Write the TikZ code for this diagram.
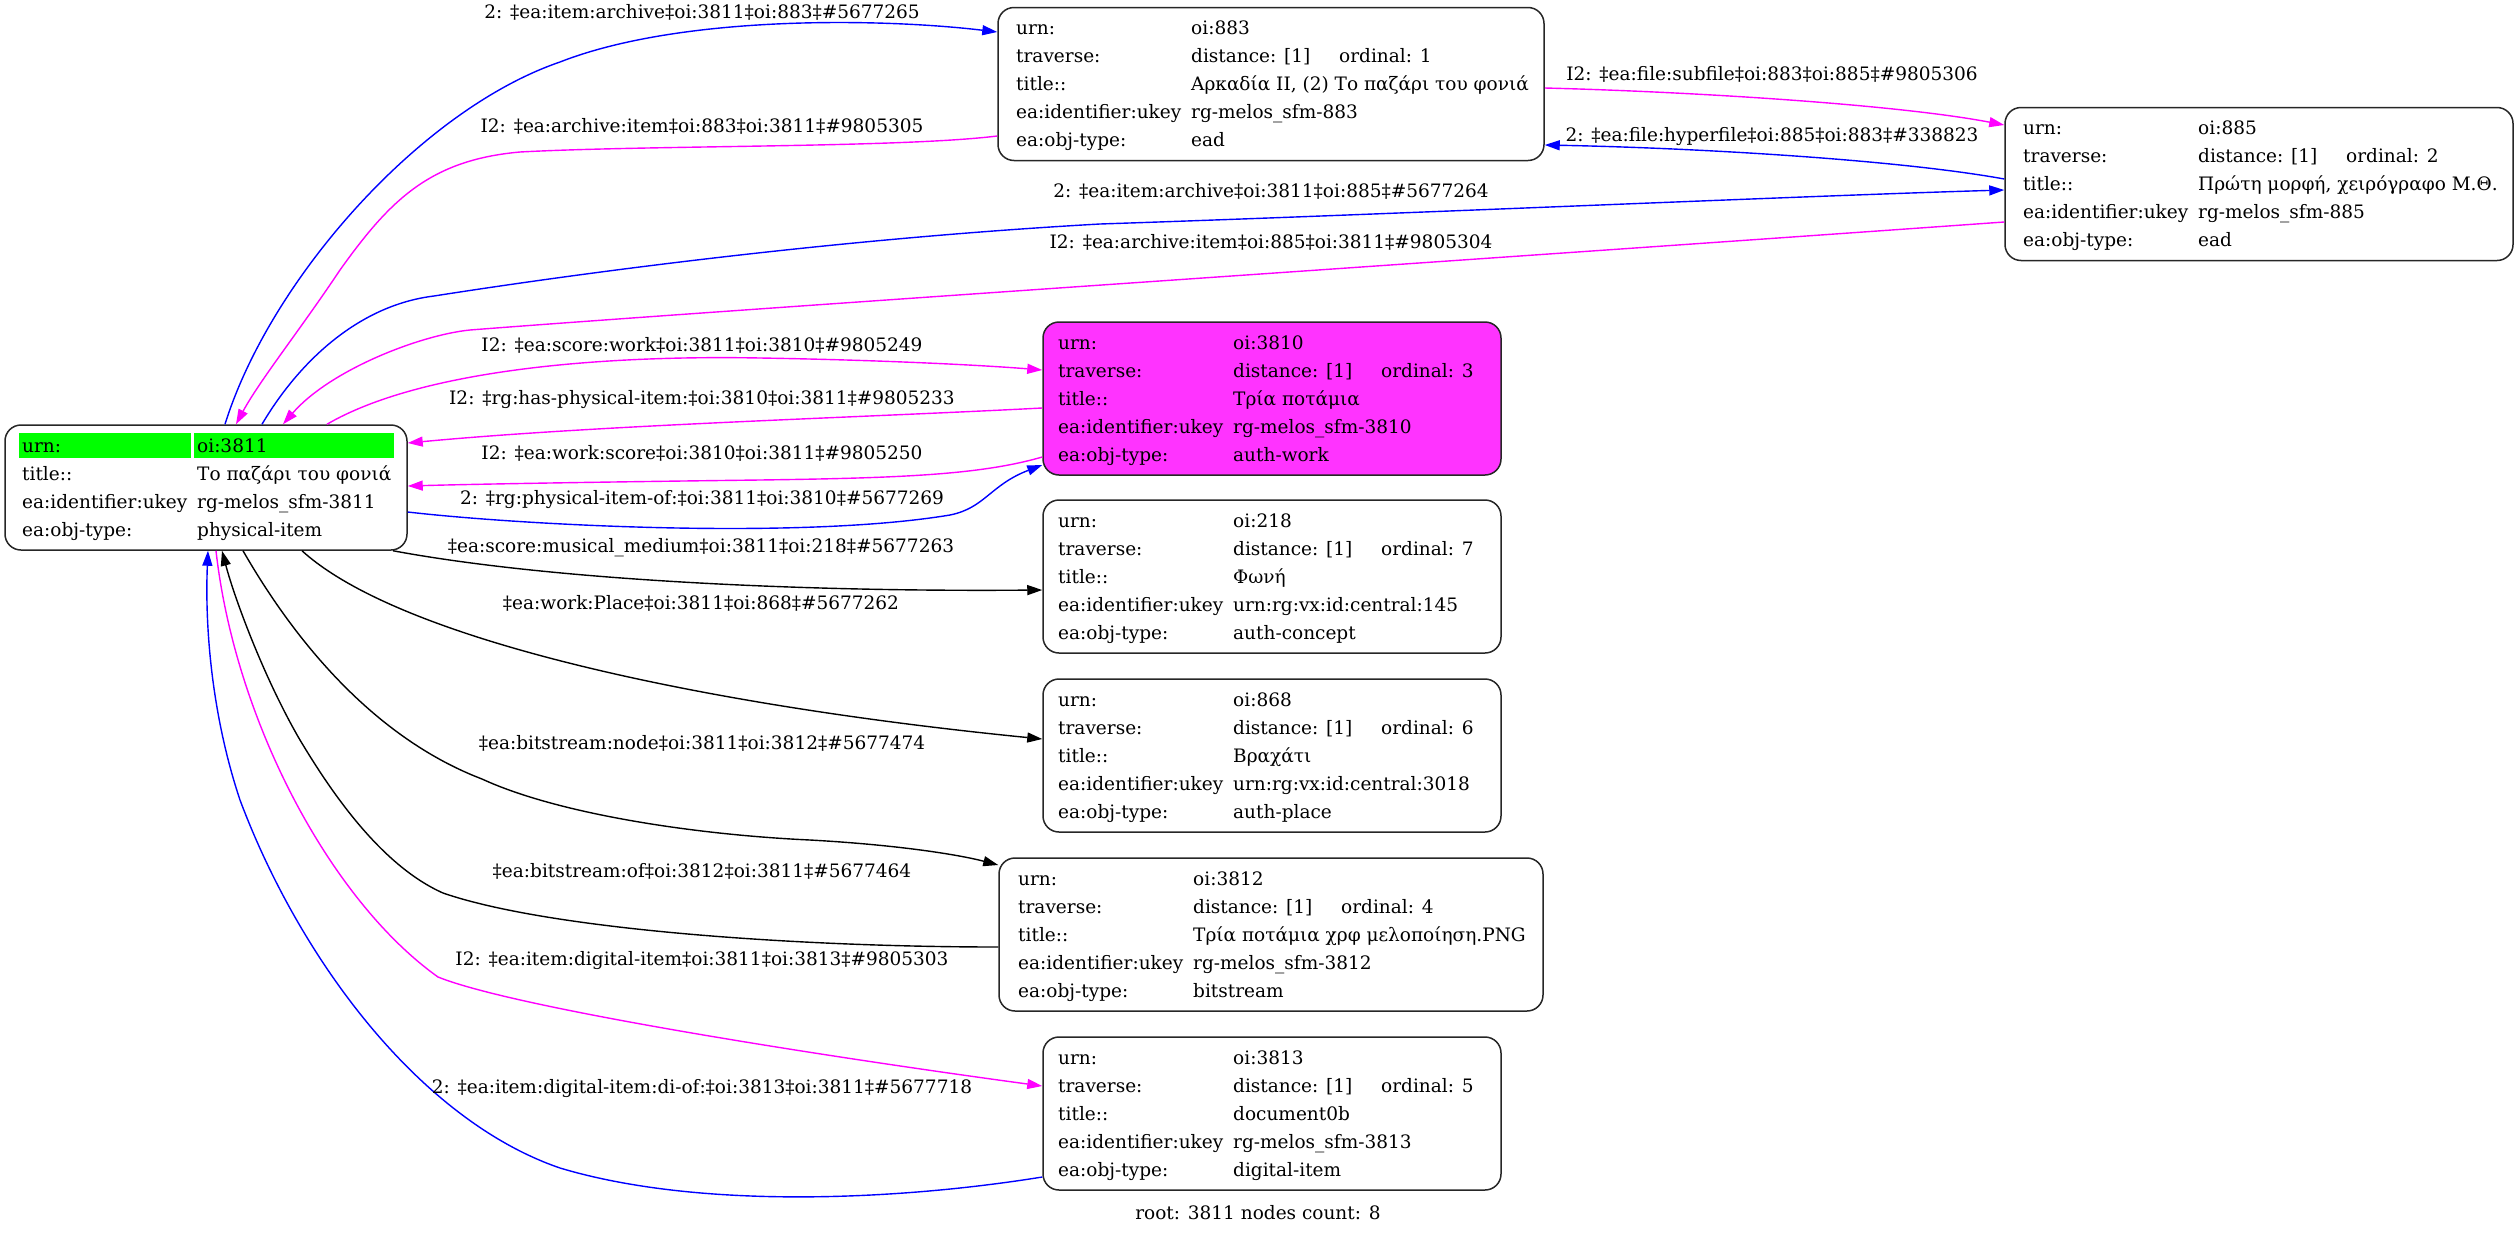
\documentclass[tikz,border=0pt]{standalone}
\usepackage{fontspec}
\setmainfont{DejaVu Serif}
\usetikzlibrary{arrows.meta}
\definecolor{mag}{HTML}{FF00FF}
\definecolor{blu}{HTML}{0000FF}
\definecolor{pinkfill}{HTML}{FF33FF}
\definecolor{grn}{HTML}{00FF00}
\newcommand{\nf}{\fontsize{18.5}{28}\selectfont}
\newcommand{\ca}[1]{\strut\makebox[175pt][l]{#1}}
\newcommand{\cb}[1]{\makebox[148pt][l]{#1}}
\tikzset{
  box/.style={draw=black!85, line width=1.5pt, rounded corners=16pt, inner sep=0pt, minimum height=153pt},
  tbl/.style={anchor=north west, inner sep=0pt, font=\nf, align=left},
  lbl/.style={inner sep=0pt, font=\nf, text height=13.5pt, text depth=4pt},
  edge/.style={line width=1.4pt, -{Triangle[length=15pt,width=10pt]}},
  be/.style={edge, draw=blu, color=blu},
  me/.style={edge, draw=mag, color=mag},
  ke/.style={edge, draw=black, color=black},
}
\newcommand{\tfive}[5]{%
\ca{urn:}#1\\%
\ca{traverse:}\cb{distance: [1]}ordinal: #2\\%
\ca{title::}#3\\%
\ca{ea:identifier:ukey}#4\\%
\ca{ea:obj-type:}#5}
\begin{document}
\begin{tikzpicture}[x=1pt,y=-1pt]
\useasboundingbox (0,0) rectangle (2519,1237);
% boxes
\node[box, minimum width=402pt, minimum height=125pt] (n3811) at (206,487.5) {};
\node[box, minimum width=546pt] (n883) at (1271,84) {};
\node[box, minimum width=508pt] (n885) at (2259,184) {};
\node[box, minimum width=458pt, fill=pinkfill] (n3810) at (1272,398.5) {};
\node[box, minimum width=458pt] (n218) at (1272,576.5) {};
\node[box, minimum width=458pt] (n868) at (1272,755.5) {};
\node[box, minimum width=544pt] (n3812) at (1271,934.5) {};
\node[box, minimum width=458pt] (n3813) at (1272,1113.5) {};
% green highlight
\fill[grn] (19,433) rectangle (191,458);
\fill[grn] (194,433) rectangle (394,458);
% tables
\node[tbl] (t3811) at (22,433) {\ca{urn:}oi:3811\\\ca{title::}Το παζάρι του φονιά\\\ca{ea:identifier:ukey}rg-melos\_sfm-3811\\\ca{ea:obj-type:}physical-item};
\node[tbl] (t883) at (1016,15) {\tfive{oi:883}{1}{Αρκαδία II, (2) Το παζάρι του φονιά}{rg-melos\_sfm-883}{ead}};
\node[tbl] (t885) at (2023,115) {\tfive{oi:885}{2}{Πρώτη μορφή, χειρόγραφο Μ.Θ.}{rg-melos\_sfm-885}{ead}};
\node[tbl] (t3810) at (1058,330) {\tfive{oi:3810}{3}{Τρία ποτάμια}{rg-melos\_sfm-3810}{auth-work}};
\node[tbl] (t218) at (1058,508) {\tfive{oi:218}{7}{Φωνή}{urn:rg:vx:id:central:145}{auth-concept}};
\node[tbl] (t868) at (1058,687) {\tfive{oi:868}{6}{Βραχάτι}{urn:rg:vx:id:central:3018}{auth-place}};
\node[tbl] (t3812) at (1018,866) {\tfive{oi:3812}{4}{Τρία ποτάμια χρφ μελοποίηση.PNG}{rg-melos\_sfm-3812}{bitstream}};
\node[tbl] (t3813) at (1058,1045) {\tfive{oi:3813}{5}{document0b}{rg-melos\_sfm-3813}{digital-item}};
% edges
\draw[be] ([xshift=19pt]n3811.north) .. controls (270,280) and (420,110) .. (560,62) .. controls (680,15) and (880,18) .. ([yshift=52pt]n883.west);
\draw[me] ([yshift=-52pt]n883.west) .. controls (900,148) and (650,145) .. (520,152) .. controls (430,160) and (390,200) .. (340,270) .. controls (300,330) and (260,380) .. ([xshift=30pt]n3811.north);
\draw[be] ([xshift=56pt]n3811.north) .. controls (300,360) and (360,305) .. (434,296) .. controls (600,270) and (850,238) .. (1100,224) .. controls (1400,214) and (1800,196) .. ([yshift=-6pt]n885.west);
\draw[me] ([yshift=-38pt]n885.west) .. controls (1500,258) and (700,312) .. (470,330) .. controls (420,335) and (330,370) .. ([xshift=77pt]n3811.north);
\draw[me] ([xshift=121pt]n3811.north) .. controls (420,370) and (600,355) .. (760,358) .. controls (880,360) and (980,365) .. ([yshift=28.5pt]n3810.west);
\draw[me] ([yshift=-9.5pt]n3810.west) .. controls (850,418) and (600,425) .. ([yshift=44.5pt]n3811.east);
\draw[me] ([yshift=-58.5pt]n3810.west) .. controls (980,475) and (900,478) .. (760,480) .. controls (600,482) and (480,484) .. ([yshift=1.5pt]n3811.east);
\draw[be] ([yshift=-24.5pt]n3811.east) .. controls (520,525) and (800,540) .. (950,515) .. controls (985,508) and (990,485) .. ([yshift=-66.5pt]n3810.west);
\draw[ke] ([xshift=187pt]n3811.south) .. controls (550,580) and (800,592) .. ([yshift=-13.5pt]n218.west);
\draw[ke] ([xshift=96pt]n3811.south) .. controls (400,640) and (700,705) .. ([yshift=16.5pt]n868.west);
\draw[ke] ([xshift=37pt]n3811.south) .. controls (300,650) and (380,740) .. (482,779) .. controls (560,815) and (700,835) .. (810,840) .. controls (900,845) and (960,855) .. ([yshift=69.5pt]n3812.west);
\draw[ke] ([yshift=-12.5pt]n3812.west) .. controls (800,947) and (550,930) .. (443,893) .. controls (380,865) and (330,790) .. (300,740) .. controls (265,680) and (235,600) .. ([xshift=16pt]n3811.south);
\draw[me] ([xshift=10pt]n3811.south) .. controls (235,720) and (330,900) .. (438,977) .. controls (520,1010) and (850,1060) .. ([yshift=27.5pt]n3813.west);
\draw[be] ([yshift=-63.5pt]n3813.west) .. controls (900,1200) and (700,1210) .. (560,1168) .. controls (420,1120) and (300,960) .. (240,800) .. controls (210,710) and (205,620) .. ([xshift=2pt]n3811.south);
\draw[me] ([yshift=-4pt]n883.east) .. controls (1700,92) and (1900,105) .. ([yshift=59pt]n885.west);
\draw[be] ([yshift=5pt]n885.west) .. controls (1900,160) and (1700,148) .. ([yshift=-61pt]n883.east);
% labels
\node[lbl] (l1) at (702,14) {2: ‡ea:item:archive‡oi:3811‡oi:883‡\#5677265};
\node[lbl] (l2) at (702,128) {I2: ‡ea:archive:item‡oi:883‡oi:3811‡\#9805305};
\node[lbl] (l3) at (1271,193) {2: ‡ea:item:archive‡oi:3811‡oi:885‡\#5677264};
\node[lbl] (l4) at (1271,244) {I2: ‡ea:archive:item‡oi:885‡oi:3811‡\#9805304};
\node[lbl] (l5) at (702,347) {I2: ‡ea:score:work‡oi:3811‡oi:3810‡\#9805249};
\node[lbl] (l6) at (702,400) {I2: ‡rg:has-physical-item:‡oi:3810‡oi:3811‡\#9805233};
\node[lbl] (l7) at (702,455) {I2: ‡ea:work:score‡oi:3810‡oi:3811‡\#9805250};
\node[lbl] (l8) at (702,500) {2: ‡rg:physical-item-of:‡oi:3811‡oi:3810‡\#5677269};
\node[lbl] (l9) at (701,548) {‡ea:score:musical\_medium‡oi:3811‡oi:218‡\#5677263};
\node[lbl] (l10) at (701,605) {‡ea:work:Place‡oi:3811‡oi:868‡\#5677262};
\node[lbl] (l11) at (702,745) {‡ea:bitstream:node‡oi:3811‡oi:3812‡\#5677474};
\node[lbl] (l12) at (702,873) {‡ea:bitstream:of‡oi:3812‡oi:3811‡\#5677464};
\node[lbl] (l13) at (702,961) {I2: ‡ea:item:digital-item‡oi:3811‡oi:3813‡\#9805303};
\node[lbl] (l14) at (702,1089) {2: ‡ea:item:digital-item:di-of:‡oi:3813‡oi:3811‡\#5677718};
\node[lbl] (l15) at (1772,76) {I2: ‡ea:file:subfile‡oi:883‡oi:885‡\#9805306};
\node[lbl] (l16) at (1772,137) {2: ‡ea:file:hyperfile‡oi:885‡oi:883‡\#338823};
\node[lbl] (foot) at (1258,1215) {root: 3811 nodes count: 8};
\end{tikzpicture}
\end{document}
